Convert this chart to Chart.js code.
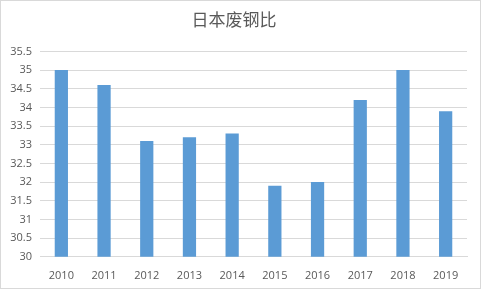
<!DOCTYPE html>
<html>
<head>
<meta charset="utf-8">
<script src="https://cdn.jsdelivr.net/npm/chart.js@4/dist/chart.umd.min.js"></script>
<style>
html,body{margin:0;padding:0;background:#fff;}
#wrap{position:relative;width:481px;height:289px;box-sizing:border-box;border:1px solid #d9d9d9;}
</style>
</head>
<body>
<div id="wrap"><canvas id="c"></canvas></div>
<script>
const categories = ['2010','2011','2012','2013','2014','2015','2016','2017','2018','2019'];
const scrapRatio = [35.0, 34.6, 33.1, 33.2, 33.3, 31.9, 32.0, 34.2, 35.0, 33.9];
const titleText = '日本废钢比';

const font = "'Microsoft YaHei','Noto Sans CJK SC','DejaVu Sans',sans-serif";
new Chart(document.getElementById('c'), {
  type: 'bar',
  data: {
    labels: categories,
    datasets: [{
      data: scrapRatio,
      backgroundColor: '#5b9bd5',
      categoryPercentage: 1.0,
      barPercentage: 0.31
    }]
  },
  options: {
    responsive: true,
    maintainAspectRatio: false,
    animation: false,
    layout: {padding: {left: 0, right: 13, top: 0, bottom: 2}},
    plugins: {
      legend: {display: false},
      tooltip: {enabled: false},
      title: {
        display: true,
        text: titleText,
        color: '#595959',
        font: {family: font, size: 17, weight: 'normal'},
        padding: {top: 8, bottom: 22}
      }
    },
    scales: {
      x: {
        grid: {display: false},
        border: {color: '#d9d9d9'},
        ticks: {color: '#595959', font: {family: "'Open Sans','DejaVu Sans',sans-serif", size: 11}, padding: 4, maxRotation: 0}
      },
      y: {
        min: 30, max: 35.5,
        afterFit: (s) => { s.width = 39; },
        grid: {color: '#d9d9d9', drawTicks: false},
        border: {display: false},
        ticks: {stepSize: 0.5, color: '#595959', font: {family: "'Open Sans','DejaVu Sans',sans-serif", size: 11}, padding: 8,
          callback: (v) => String(v)}
      }
    }
  }
});
</script>
</body>
</html>
